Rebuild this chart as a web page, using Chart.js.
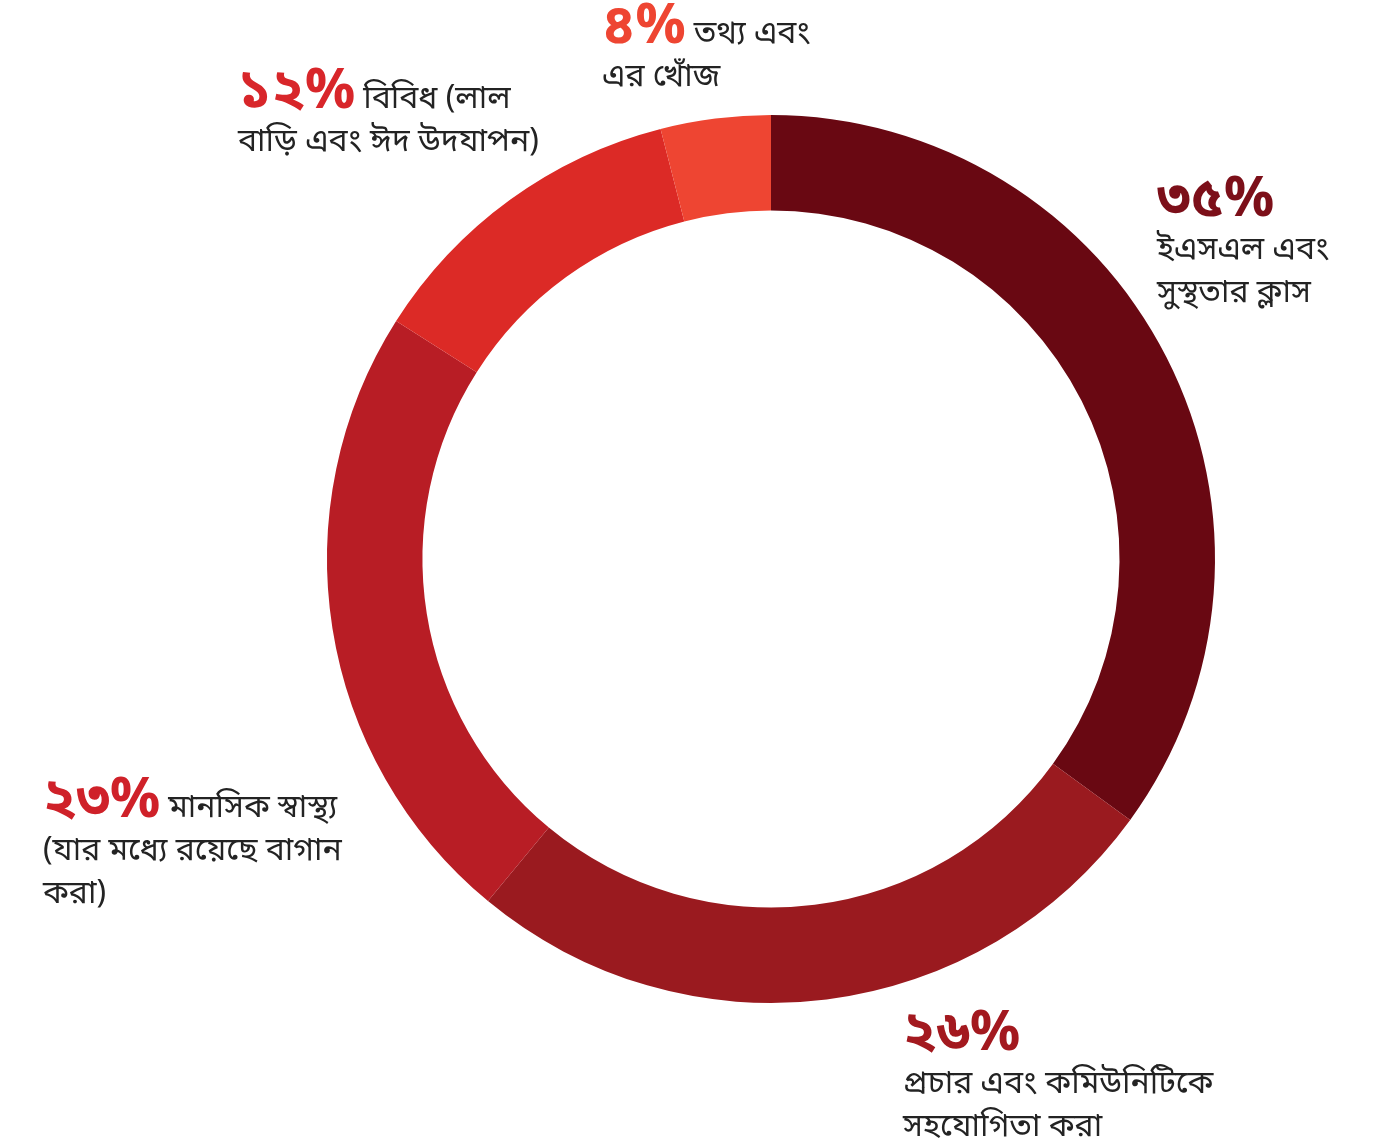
<!DOCTYPE html>
<html>
<head>
<meta charset="utf-8">
<script src="https://cdn.jsdelivr.net/npm/chart.js@4.4.1/dist/chart.umd.min.js"></script>
<style>
  html, body { margin: 0; padding: 0; background: #fff; }
  #wrap { position: relative; width: 1378px; height: 1141px; overflow: hidden; }
  #budgetChart { position: absolute; left: 0; top: 0; }
  .note {
    position: absolute;
    font-family: "Noto Sans Bengali", "Noto Sans", "DejaVu Sans", sans-serif;
    font-size: 32px;
    line-height: 43px;
    color: #232323;
    white-space: nowrap;
  }
  .note .pct { font-size: 55px; line-height: 43px; font-weight: bold; margin-right: 8px; }
</style>
</head>
<body>
<div id="wrap">
  <canvas id="budgetChart" width="1378" height="1141"></canvas>
</div>
<script>
"use strict";

// spending categories, clockwise from 12 o'clock
var categories = [
  'ইএসএল এবং সুস্থতার ক্লাস',
  'প্রচার এবং কমিউনিটিকে সহযোগিতা করা',
  'মানসিক স্বাস্থ্য (যার মধ্যে রয়েছে বাগান করা)',
  'বিবিধ (লাল বাড়ি এবং ঈদ উদযাপন)',
  'তথ্য এবং এর খোঁজ'
];
var shares = [35, 26, 23, 12, 4];
var sliceColors = ['#690812', '#9a1a1f', '#b81d25', '#dc2a26', '#ee4532'];
var pctColors = ['#7c0f19', '#a3191f', '#cf2129', '#d8262a', '#ee4532'];

// how each caption is broken into lines, and where it sits
var captionLines = [
  [null, 'ইএসএল এবং', 'সুস্থতার ক্লাস'],
  [null, 'প্রচার এবং কমিউনিটিকে', 'সহযোগিতা করা'],
  ['মানসিক স্বাস্থ্য', '(যার মধ্যে রয়েছে বাগান', 'করা)'],
  ['বিবিধ (লাল', 'বাড়ি এবং ঈদ উদযাপন)'],
  ['তথ্য এবং', 'এর খোঁজ']
];
var captionPos = [
  { left: 1157, top: 181 },
  { left: 903, top: 1015 },
  { left: 43, top: 782 },
  { left: 238, top: 73 },
  { left: 602, top: 8 }
];

var bnDigits = '০১২৩৪৫৬৭৮৯';
function toBengali(n) {
  return String(n).replace(/[0-9]/g, function (d) { return bnDigits[+d]; });
}

var ctx = document.getElementById('budgetChart').getContext('2d');
var budgetChart = new Chart(ctx, {
  type: 'doughnut',
  data: {
    labels: categories,
    datasets: [{
      data: shares,
      backgroundColor: sliceColors,
      borderWidth: 0
    }]
  },
  options: {
    responsive: false,
    animation: { duration: 0 },
    cutout: '78.5%',
    rotation: 0,
    layout: {
      padding: { left: 327, right: 163, top: 115, bottom: 138 }
    },
    plugins: {
      legend: { display: false },
      tooltip: { enabled: false }
    }
  }
});

// captions with the big percentage in front
var wrap = document.getElementById('wrap');
shares.forEach(function (value, i) {
  var div = document.createElement('div');
  div.className = 'note';
  div.style.left = captionPos[i].left + 'px';
  div.style.top = captionPos[i].top + 'px';
  var lines = captionLines[i];
  var html = '<span class="pct" style="color:' + pctColors[i] + '">' + toBengali(value) + '%</span>';
  if (lines[0]) html += lines[0];
  for (var k = 1; k < lines.length; k++) html += '<br>' + lines[k];
  div.innerHTML = html;
  wrap.appendChild(div);
});
</script>
</body>
</html>
